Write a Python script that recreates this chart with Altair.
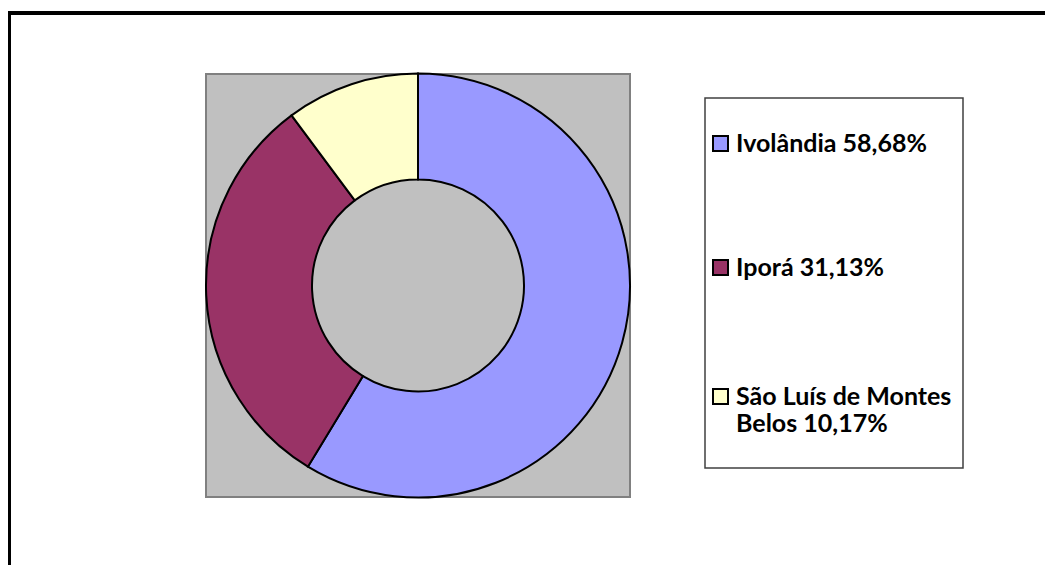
import textwrap
import altair as alt
import pandas as pd

# ---- data ----
names = ["Ivolândia", "Iporá", "São Luís de Montes Belos"]
shares = [58.68, 31.13, 10.17]
colors = ["#9999FF", "#993366", "#FFFFCC"]

# ---- layout (chart pixel coordinates) ----
W, H = 1037, 557
CX, CY = 410, 277.5
R_OUT, R_IN = 212, 106
legend_baselines = [144, 268, 397]
sq_x, sq_size = 705, 15
text_x = 728
FONT = "Lato"

labels = [textwrap.fill(f"{n} {s:.2f}%".replace(".", ","), width=18) for n, s in zip(names, shares)]

df = pd.DataFrame({"name": names, "share": shares, "order": list(range(len(names)))})
leg = pd.DataFrame({
    "name": names,
    "label": labels,
    "ty": legend_baselines,
    "tx": [text_x] * len(names),
    "sx": [sq_x] * len(names),
    "sx2": [sq_x + sq_size] * len(names),
    "sy": [b - 16 for b in legend_baselines],
    "sy2": [b - 16 + sq_size for b in legend_baselines],
})

color_scale = alt.Scale(domain=names, range=colors)
one = alt.Data(values=[{"a": 1}])

frame = alt.Chart(one).mark_rect(fill=None, stroke="black", strokeWidth=4, clip=True).encode(
    x=alt.value(1), x2=alt.value(1200), y=alt.value(5), y2=alt.value(900)
)

plot_bg = alt.Chart(one).mark_rect(fill="#C0C0C0", stroke="#808080", strokeWidth=2).encode(
    x=alt.value(198), x2=alt.value(622), y=alt.value(66), y2=alt.value(489)
)

donut = alt.Chart(df).mark_arc(radius=R_OUT, radius2=R_IN, stroke="black", strokeWidth=2).encode(
    theta=alt.Theta("share:Q", stack=True),
    order=alt.Order("order:Q"),
    color=alt.Color("name:N", scale=color_scale, legend=None),
    x=alt.value(CX),
    y=alt.value(CY),
)

legend_box = alt.Chart(one).mark_rect(fill="white", stroke="#404040", strokeWidth=1.5).encode(
    x=alt.value(697), x2=alt.value(955), y=alt.value(90), y2=alt.value(460)
)

legend_sq = alt.Chart(leg).mark_rect(stroke="black", strokeWidth=2).encode(
    x=alt.X("sx:Q", scale=None), x2="sx2:Q",
    y=alt.Y("sy:Q", scale=None), y2="sy2:Q",
    color=alt.Color("name:N", scale=color_scale, legend=None),
)

legend_txt = alt.Chart(leg).mark_text(
    align="left", baseline="alphabetic", font=FONT, fontWeight="bold", fontSize=25,
    color="black", lineBreak="\n", lineHeight=27,
).encode(
    x=alt.X("tx:Q", scale=None), y=alt.Y("ty:Q", scale=None), text="label:N"
)

chart = alt.layer(frame, plot_bg, donut, legend_box, legend_sq, legend_txt).properties(
    width=W, height=H, padding=0, autosize=alt.AutoSizeParams(type="none"),
    background="white",
).configure_view(stroke=None)

chart.save("out.html", embed_options={"renderer": "svg", "actions": False})
